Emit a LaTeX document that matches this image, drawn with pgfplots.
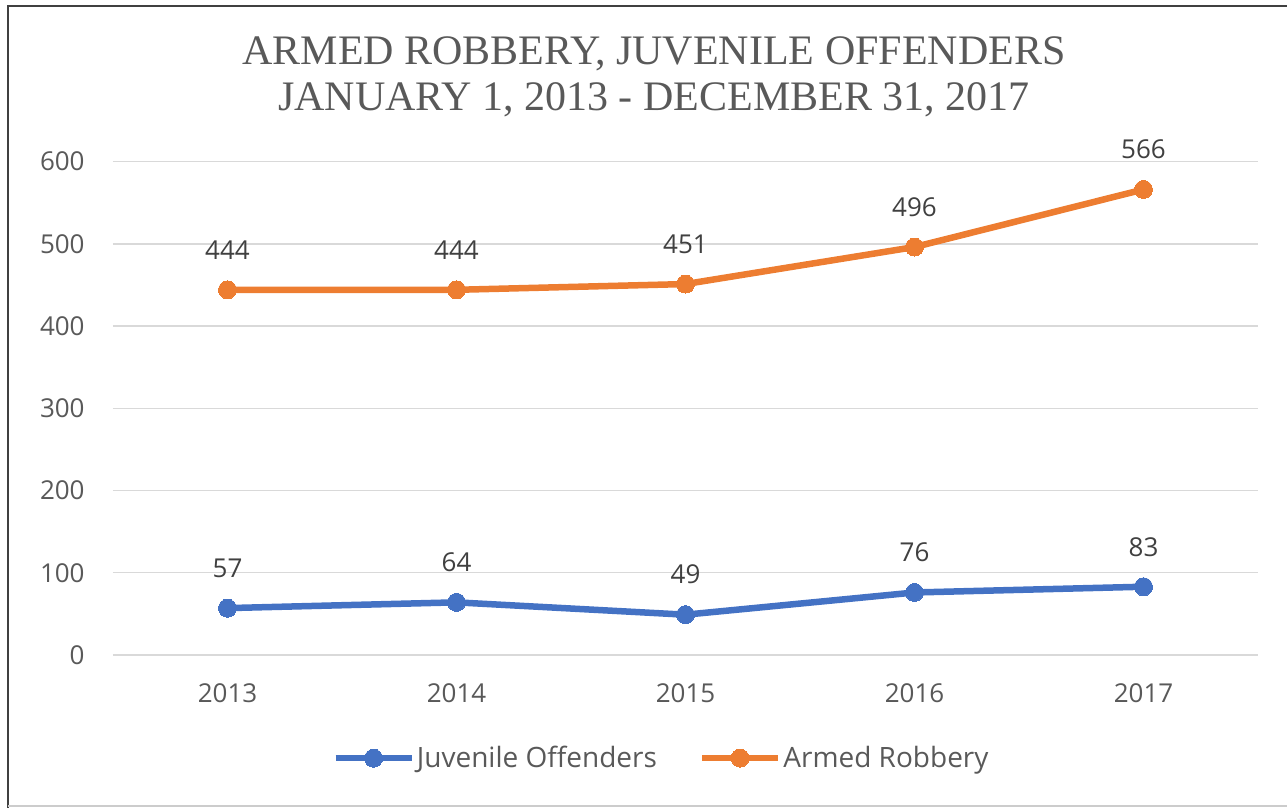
\documentclass[border=0pt]{standalone}
\usepackage{pgfplots}
\pgfplotsset{compat=1.18}
\usepackage{fontspec}
\setmainfont{Open Sans}
\newfontfamily\titlefont{Liberation Serif}
\definecolor{jblue}{HTML}{4472C4}
\definecolor{aorange}{HTML}{ED7D31}
\definecolor{txtc}{HTML}{595959}
\definecolor{lblc}{HTML}{404040}
\definecolor{gridc}{HTML}{D9D9D9}
\begin{document}
\begin{tikzpicture}
\useasboundingbox (-56.5pt,-76.5pt) rectangle (587pt,327.5pt);
\draw[color=black!75, line width=0.75pt] (-52.5pt,-76.5pt) -- (-52.5pt,324.6pt) -- (587pt,324.6pt);
\draw[color=black!20, line width=0.75pt] (-52.5pt,-75.5pt) -- (587pt,-75.5pt);
\begin{axis}[
  at={(0pt,0pt)}, anchor=south west, scale only axis,
  width=572.5pt, height=246.75pt,
  xmin=-0.5, xmax=4.5, ymin=0, ymax=600,
  axis line style={draw=none},
  xtick={0,1,2,3,4}, xticklabels={2013,2014,2015,2016,2017},
  ytick={0,100,200,300,400,500,600},
  major tick length=0pt,
  ymajorgrids, grid style={gridc, line width=0.75pt},
  tick label style={font=\fontsize{13}{15}\selectfont, text=txtc},
  xticklabel style={anchor=center, yshift=-19pt},
  yticklabel style={anchor=east, inner sep=0pt, xshift=-14pt},
  /pgf/number format/assume math mode=true,
  nodes near coords,
  nodes near coords style={anchor=center, yshift=20pt, font=\fontsize{13}{15}\selectfont, text=lblc},
  legend columns=2,
  legend style={draw=none, fill=none, at={(0.479,-0.209)}, anchor=center,
    font=\fontsize{14}{16}\selectfont, text=txtc,
    nodes={inner xsep=1pt},
    /tikz/every even column/.append style={column sep=20pt}},
  legend image code/.code={\draw[mark repeat=2,mark phase=2,#1] plot coordinates {(0pt,0pt) (19pt,0pt) (38pt,0pt)};},
  clip=false,
]
\addplot[color=jblue, line width=3.25pt, line join=round, mark=*, mark size=4.5pt, mark options={solid, line width=0pt}]
  coordinates {(0,57) (1,64) (2,49) (3,76) (4,83)};
\addlegendentry{Juvenile Offenders}
\addplot[color=aorange, line width=3.25pt, line join=round, mark=*, mark size=4.5pt, mark options={solid, line width=0pt}]
  coordinates {(0,444) (1,444) (2,451) (3,496) (4,566)};
\addlegendentry{Armed Robbery}
\end{axis}
\node[font=\titlefont\fontsize{21}{23}\selectfont, text=txtc, align=center] at (270.5pt,289pt)
  {ARMED ROBBERY, JUVENILE OFFENDERS\\JANUARY 1, 2013 - DECEMBER 31, 2017};
\end{tikzpicture}
\end{document}
